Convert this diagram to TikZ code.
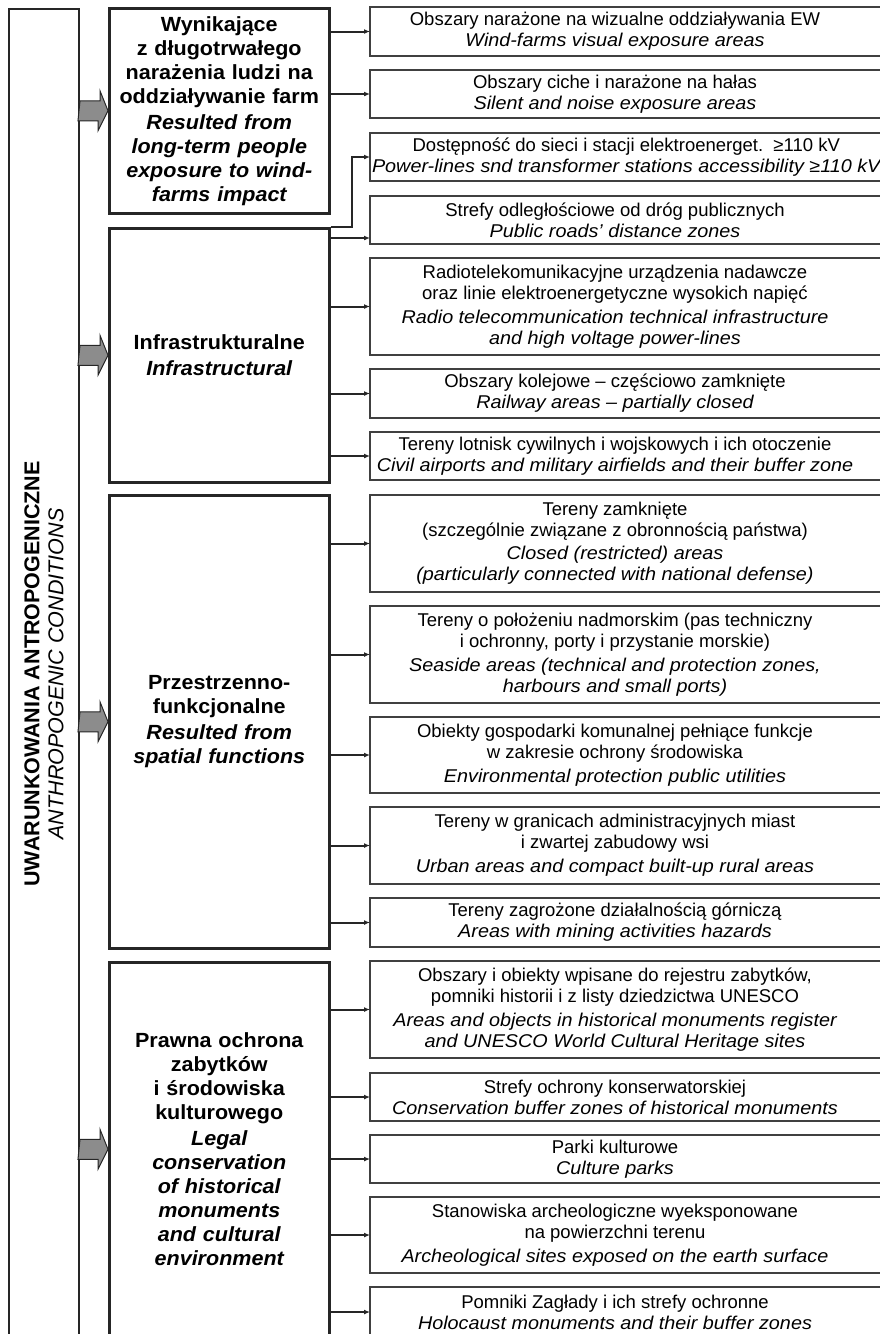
\documentclass[tikz,border=0pt]{standalone}
\usepackage{fontspec}
\setmainfont{Liberation Sans}
\newfontfamily\catfont{Liberation Sans}[FakeStretch=1.05]
\newfontfamily\subfont{Liberation Sans}[ItalicFeatures={FakeStretch=1.07}]
\usetikzlibrary{arrows.meta}

\tikzset{
  catbox/.style={draw=black!85, line width=2.5pt, minimum width=220pt, text width=212pt,
    inner sep=4pt, align=center, anchor=north west, font=\catfont\fontsize{20.5}{24}\selectfont\bfseries},
  subbox/.style={minimum width=490pt, inner xsep=5pt, inner ysep=0pt, outer sep=0pt,
    align=center, anchor=north west, font=\subfont\fontsize{18.5}{21}\selectfont},
  subframe/.style={draw=black!75, line width=1.2pt},
  conn/.style={draw=black!85, line width=2pt, -{Latex[length=6pt,width=5pt]}},
  blockarr/.style={fill=black!45, draw=black!85, line width=1pt},
}

\begin{document}
\begin{tikzpicture}[x=1pt,y=-1pt]
    \useasboundingbox (0,0) rectangle (879,1334);
    \node[draw=black!85, line width=2pt, minimum width=70pt, minimum height=1330pt, inner sep=0pt, anchor=north west] (anthro) at (8,8) {};
    \node[rotate=90, align=center, font=\fontsize{21.5}{24}\selectfont] (anthrotxt) at (anthro.center)
        {\textbf{UWARUNKOWANIA ANTROPOGENICZNE}\\\textit{ANTHROPOGENIC CONDITIONS}};

    % groups of conditions
    \node[catbox, minimum height=205pt] (exposure) at (108,7)
        {Wynikające\\z długotrwałego\\narażenia ludzi na\\oddziaływanie farm\\[2pt]\itshape Resulted from\\long-term people\\exposure to wind-\\farms impact};
    \node[catbox, minimum height=254pt] (infra) at (108,227)
        {Infrastrukturalne\\[2pt]\itshape Infrastructural};
    \node[catbox, minimum height=453pt] (spatial) at (108,494)
        {Przestrzenno-\\funkcjonalne\\[2pt]\itshape Resulted from\\spatial functions};
    \node[catbox, minimum height=374pt] (heritage) at (108,961)
        {Prawna ochrona\\zabytków\\i środowiska\\kulturowego\\[2pt]\itshape Legal\\conservation\\of historical\\monuments\\and cultural\\environment};

    % single conditions
    \node[subbox, minimum height=49pt] (visual) at (370,7)
        {Obszary narażone na wizualne oddziaływania EW\\\itshape Wind-farms visual exposure areas};
    \node[subbox, minimum height=48pt] (noise) at (370,70)
        {Obszary ciche i narażone na hałas\\\itshape Silent and noise exposure areas};
    \node[subbox, minimum height=48pt, inner xsep=2pt] (power) at (370,133)
        {Dostępność do sieci i stacji elektroenerget.~~≥110 kV\\\itshape Power-lines snd transformer stations accessibility ≥110 kV};
    \node[subbox, minimum height=48pt] (roads) at (370,196)
        {Strefy odległościowe od dróg publicznych\\\itshape Public roads’ distance zones};
    \node[subbox, minimum height=97pt] (radio) at (370,258)
        {Radiotelekomunikacyjne urządzenia nadawcze\\oraz linie elektroenergetyczne wysokich napięć\\[3pt]\itshape Radio telecommunication technical infrastructure\\\itshape and high voltage power-lines};
    \node[subbox, minimum height=49pt] (rail) at (370,369)
        {Obszary kolejowe – częściowo zamknięte\\\itshape Railway areas – partially closed};
    \node[subbox, minimum height=48pt] (airport) at (370,432)
        {Tereny lotnisk cywilnych i wojskowych i ich otoczenie\\\itshape Civil airports and military airfields and their buffer zone};
    \node[subbox, minimum height=97pt] (closed) at (370,495)
        {Tereny zamknięte\\(szczególnie związane z obronnością państwa)\\[2pt]\itshape Closed (restricted) areas\\\itshape (particularly connected with national defense)};
    \node[subbox, minimum height=97pt] (seaside) at (370,606)
        {Tereny o położeniu nadmorskim (pas techniczny\\i ochronny, porty i przystanie morskie)\\[3pt]\itshape Seaside areas (technical and protection zones,\\\itshape harbours and small ports)};
    \node[subbox, minimum height=76pt] (utility) at (370,717)
        {Obiekty gospodarki komunalnej pełniące funkcje\\w zakresie ochrony środowiska\\[3pt]\itshape Environmental protection public utilities};
    \node[subbox, minimum height=77pt] (urban) at (370,807)
        {Tereny w granicach administracyjnych miast\\i zwartej zabudowy wsi\\[3pt]\itshape Urban areas and compact built-up rural areas};
    \node[subbox, minimum height=49pt] (mining) at (370,898)
        {Tereny zagrożone działalnością górniczą\\\itshape Areas with mining activities hazards};
    \node[subbox, minimum height=97pt] (register) at (370,961)
        {Obszary i obiekty wpisane do rejestru zabytków,\\pomniki historii i z listy dziedzictwa UNESCO\\[3pt]\itshape Areas and objects in historical monuments register\\\itshape and UNESCO World Cultural Heritage sites};
    \node[subbox, minimum height=48pt] (conserv) at (370,1073)
        {Strefy ochrony konserwatorskiej\\\itshape Conservation buffer zones of historical monuments};
    \node[subbox, minimum height=48pt] (parks) at (370,1135)
        {Parki kulturowe\\\itshape Culture parks};
    \node[subbox, minimum height=76pt] (archeo) at (370,1197)
        {Stanowiska archeologiczne wyeksponowane\\na powierzchni terenu\\[3pt]\itshape Archeological sites exposed on the earth surface};
    \node[subbox, minimum height=50pt] (holocaust) at (370,1287)
        {Pomniki Zagłady i ich strefy ochronne\\\itshape Holocaust monuments and their buffer zones};

    \foreach \r in {visual,noise,power,roads,radio,rail,airport,closed,seaside,utility,urban,mining,register,conserv,parks,archeo,holocaust}
        \draw[subframe] ([xshift=80pt]\r.north east) -- (\r.north west) -- (\r.south west) -- ([xshift=80pt]\r.south east);

    % grey arrows
    \foreach \c in {exposure,infra,spatial,heritage}
        \draw[blockarr] (anthro.east |- \c.west) ++(0,-10) -- ++(20,0) -- ++(0,-10) -- (\c.west) -- ++(-10,20) -- ++(0,-10) -- ++(-20,0) -- cycle;

    % connectors
    \foreach \c/\r in {exposure/visual,exposure/noise,infra/radio,infra/rail,infra/airport,spatial/closed,spatial/seaside,spatial/utility,spatial/urban,spatial/mining,heritage/register,heritage/conserv,heritage/parks,heritage/archeo,heritage/holocaust}
        \draw[conn] (\c.east |- \r.west) -- (\r.west);
    \draw[conn] (infra.north east) -- ++(21,0) |- (power.west);
    \coordinate (roadsfoot) at ([yshift=-11pt]infra.north east);
    \draw[conn] (roadsfoot) -- (roadsfoot -| roads.west);
\end{tikzpicture}
\end{document}
